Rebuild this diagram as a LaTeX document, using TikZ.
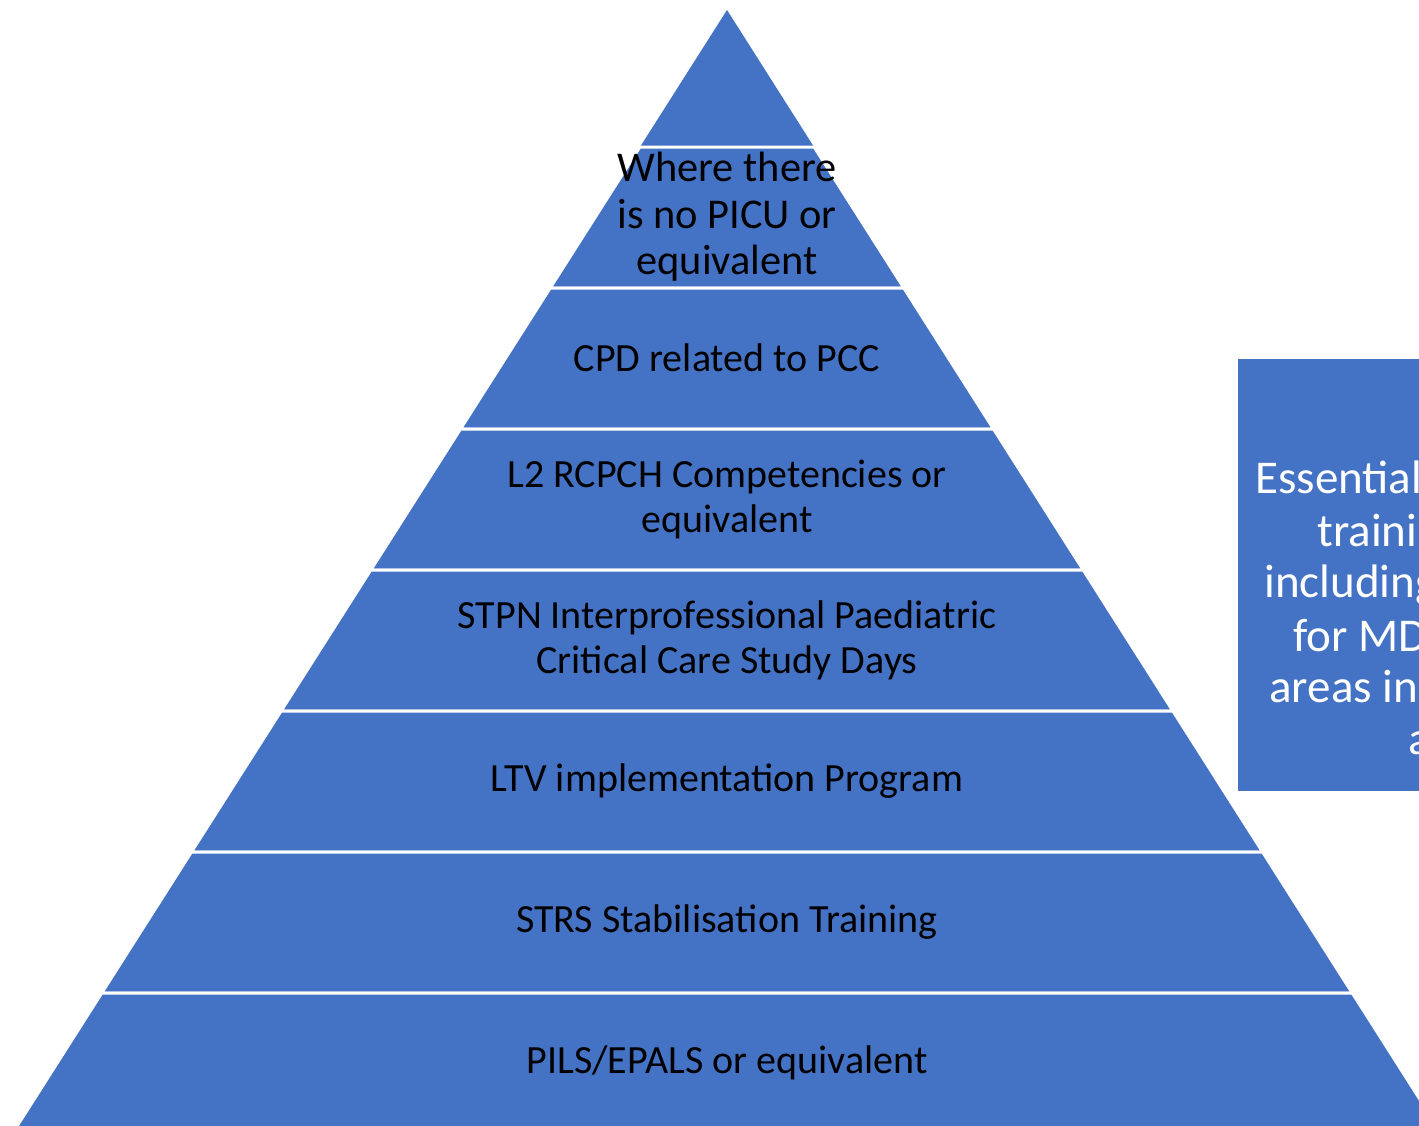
\documentclass[tikz,border=0pt]{standalone}
\usepackage{fontspec}
\setmainfont{Carlito}
\usetikzlibrary{positioning}
\definecolor{pyrblue}{HTML}{4472C4}

\begin{document}
\begin{tikzpicture}[x=0.5pt,y=-0.5pt,
    layer/.style={fill=pyrblue,draw=white,line width=1.5pt},
    tier/.style={align=center,inner sep=0pt,text=black,font=\fontsize{20}{22.5}\selectfont},
    sidebox/.style={fill=pyrblue,anchor=north west,inner sep=0pt,minimum width=120pt,minimum height=216pt},
    sideline/.style={anchor=base west,inner sep=0pt,text=white,font=\fontsize{23.5}{26}\selectfont}]
    \useasboundingbox (0,0) rectangle (1419,1125);
    \clip (0,0) rectangle (1419,1125);

    % pyramid
    \fill[pyrblue] (727,10) -- (640,147) -- (814,147) -- cycle;
    \foreach \t/\b in {147/288, 288/429, 429/570, 570/711, 711/852, 852/993, 993/1134}
        \draw[layer] ({727-(\t-10)*0.6361},\t) -- ({727+(\t-10)*0.6361},\t)
            -- ({727+(\b-10)*0.6361},\b) -- ({727-(\b-10)*0.6361},\b) -- cycle;

    \node[tier,font=\fontsize{21.2}{23.25}\selectfont] (picu) at (727,217) {Where there\\is no PICU or\\equivalent};
    \node[tier] (cpd)   at (727,358)  {CPD related to PCC};
    \node[tier] (rcpch) at (727,499)  {L2 RCPCH Competencies or\\equivalent};
    \node[tier] (stpn)  at (727,640)  {STPN Interprofessional Paediatric\\Critical Care Study Days};
    \node[tier] (ltv)   at (727,781)  {LTV implementation Program};
    \node[tier] (strs)  at (727,922)  {STRS Stabilisation Training};
    \node[tier] (pils)  at (727,1063) {PILS/EPALS or equivalent};

    % side box
    \node[sidebox] (ess) at (1238,359) {};
    \node[sideline] (ess1) at (1255,493) {Essential};
    \node[sideline] (ess2) at (1317,546) {traini};
    \node[sideline] (ess3) at (1264,597) {including};
    \node[sideline] (ess4) at (1293,651) {for MD};
    \node[sideline] (ess5) at (1269,702) {areas in};
    \node[sideline] (ess6) at (1408,754) {a};
\end{tikzpicture}
\end{document}
